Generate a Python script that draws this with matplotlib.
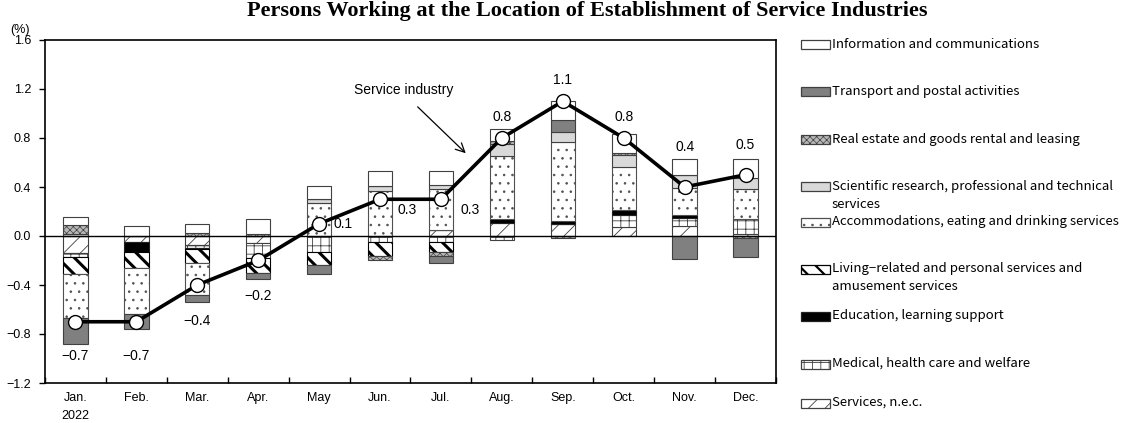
import numpy as np
import matplotlib
matplotlib.use("Agg")
import matplotlib.pyplot as plt
from matplotlib.patches import Rectangle

plt.rcParams['font.family'] = ['Noto Sans CJK JP', 'DejaVu Sans']

months = ["Jan.", "Feb.", "Mar.", "Apr.", "May", "Jun.", "Jul.", "Aug.", "Sep.", "Oct.", "Nov.", "Dec."]
year_label = "2022"

# stacked components (percentage points), stacking order from zero outward
services_nec   = [-0.14, -0.05, -0.07, -0.06, 0.00, 0.00, 0.05, 0.11, 0.10, 0.075, 0.085, 0.02]
medical        = [-0.03, 0.00, -0.03, -0.12, -0.13, -0.05, -0.05, -0.03, 0.00, 0.10, 0.065, 0.115]
education      = [0.00, -0.08, -0.01, 0.00, 0.00, 0.00, 0.00, 0.025, 0.025, 0.035, 0.025, 0.00]
living         = [-0.14, -0.13, -0.11, -0.12, -0.11, -0.11, -0.08, 0.00, 0.00, 0.00, 0.00, 0.00]
accommodations = [-0.36, -0.38, -0.26, 0.00, 0.27, 0.37, 0.33, 0.52, 0.645, 0.35, 0.22, 0.245]
scientific     = [0.02, 0.00, 0.00, 0.00, 0.03, 0.04, 0.04, 0.10, 0.075, 0.10, 0.10, 0.09]
real_estate    = [0.07, 0.00, 0.025, 0.02, 0.00, -0.04, -0.03, 0.02, -0.02, 0.02, 0.00, -0.02]
transport      = [-0.21, -0.12, -0.055, -0.055, -0.07, 0.00, -0.06, 0.00, 0.10, 0.00, -0.19, -0.155]
information    = [0.065, 0.08, 0.07, 0.12, 0.11, 0.12, 0.11, 0.10, 0.155, 0.155, 0.13, 0.16]

service_industry = [-0.7, -0.7, -0.4, -0.2, 0.1, 0.3, 0.3, 0.8, 1.1, 0.8, 0.4, 0.5]
value_labels = ["\u22120.7", "\u22120.7", "\u22120.4", "\u22120.2", "0.1", "0.3", "0.3", "0.8", "1.1", "0.8", "0.4", "0.5"]

legend_labels = [
    "Information and communications",
    "Transport and postal activities",
    "Real estate and goods rental and leasing",
    "Scientific research, professional and technical\nservices",
    "Accommodations, eating and drinking services",
    "Living\u2212related and personal services and\namusement services",
    "Education, learning support",
    "Medical, health care and welfare",
    "Services, n.e.c.",
]
y_ticks = [-1.2, -0.8, -0.4, 0.0, 0.4, 0.8, 1.2, 1.6]
y_ticklabels = ["\u22121.2", "\u22120.8", "\u22120.4", "0.0", "0.4", "0.8", "1.2", "1.6"]

# ---------------- styling ----------------
series = [services_nec, medical, education, living, accommodations,
          scientific, real_estate, transport, information]
styles = [
    dict(fc="white", ec="#404040", hatch="//", hlw=0.6),       # services nec
    dict(fc="white", ec="#404040", hatch="++", hlw=0.6),       # medical
    dict(fc="black", ec="#202020", hatch=None, hlw=0.6),       # education
    dict(fc="white", ec="#000000", hatch="\\\\", hlw=2.2),     # living
    dict(fc="white", ec="#505050", hatch="..", hlw=0.6),       # accommodations
    dict(fc="#d9d9d9", ec="#404040", hatch=None, hlw=0.6),     # scientific
    dict(fc="#b8b8b8", ec="#404040", hatch="xxxxx", hlw=0.5),  # real estate
    dict(fc="#808080", ec="#404040", hatch=None, hlw=0.6),     # transport
    dict(fc="white", ec="#404040", hatch=None, hlw=0.6),       # information
]
# legend order (top to bottom) index into series
legend_order = [8, 7, 6, 5, 4, 3, 2, 1, 0]

W, H = 1123, 423
fig = plt.figure(figsize=(W / 100, H / 100), dpi=100)
ax = fig.add_axes([45 / W, 1 - 383 / H, (776 - 45) / W, (383 - 40) / H])

x = np.arange(len(months))
pos_base = np.zeros(len(months))
neg_base = np.zeros(len(months))
bar_w = 0.4
for vals, st in zip(series, styles):
    v = np.array(vals, dtype=float)
    bottoms = np.where(v >= 0, pos_base, neg_base)
    bars = ax.bar(x, v, bottom=bottoms, width=bar_w, facecolor=st["fc"],
                  edgecolor=st["ec"], linewidth=0.8, hatch=st["hatch"], zorder=2)
    for p in bars:
        if hasattr(p, "set_hatch_linewidth"):
            p.set_hatch_linewidth(st["hlw"])
    pos_base = pos_base + np.where(v >= 0, v, 0)
    neg_base = neg_base + np.where(v < 0, v, 0)

ax.axhline(0, color="black", lw=1.0, zorder=3)
ax.plot(x, service_industry, color="black", lw=2.6, marker="o", markersize=10,
        markerfacecolor="white", markeredgecolor="black", markeredgewidth=1.0, zorder=5)

label_offsets = [(0, -34), (0, -34), (0, -36), (0, -35), (24, 0), (27, -11), (29, -11),
                 (0, 21), (0, 21), (0, 21), (0, 40), (0, 30)]
for xi, yi, lab, off in zip(x, service_industry, value_labels, label_offsets):
    ax.annotate(lab, (xi, yi), xytext=off, textcoords="offset pixels",
                ha="center", va="center", fontsize=10, zorder=6,
                family=["Liberation Sans", "DejaVu Sans"])

ax.text(5.39, 1.19, "Service industry", ha="center", va="center", fontsize=10,
        family=["Liberation Sans", "DejaVu Sans"])
ax.annotate("", xy=(6.44, 0.66), xytext=(5.585, 1.07),
            arrowprops=dict(arrowstyle="->", lw=0.9, color="black",
                            mutation_scale=16))

ax.set_xlim(-0.5, len(months) - 0.5)
ax.set_ylim(-1.2, 1.6)
ax.set_yticks(y_ticks)
ax.set_yticklabels(y_ticklabels, fontsize=9, family=["Liberation Sans", "DejaVu Sans"])
ax.tick_params(axis="y", direction="out", length=4, width=1, pad=6)
ax.set_xticks(np.arange(len(months) + 1) - 0.5)
ax.set_xticklabels([])
ax.tick_params(axis="x", direction="in", length=4, width=1)
for xi, m in zip(x, months):
    ax.text(xi, -0.027, m, transform=ax.get_xaxis_transform(), ha="center", va="top",
            fontsize=9, family=["Liberation Sans", "DejaVu Sans"])
ax.text(0, -0.079, year_label, transform=ax.get_xaxis_transform(), ha="center", va="top",
        fontsize=9, family=["Liberation Sans", "DejaVu Sans"])
for s in ax.spines.values():
    s.set_linewidth(1.2)
    s.set_color("black")

fig.text(20 / W, 1 - 30 / H, "(%)", ha="center", va="center", fontsize=9,
         family=["Liberation Sans", "DejaVu Sans"])

fig.text(587 / W, 1 - 1 / H, "Persons Working at the Location of Establishment of Service Industries",
         ha="center", va="top", fontsize=16, fontweight="bold",
         family=["Liberation Serif", "DejaVu Serif"])

# legend drawn in figure coordinates
leg_y = [45, 92, 140, 187, 222, 269, 316, 364, 403]
for yy, idx, lab in zip(leg_y, legend_order, legend_labels):
    st = styles[idx]
    r = Rectangle((801 / W, 1 - (yy + 4.5) / H), 29 / W, 9 / H, transform=fig.transFigure,
                  facecolor=st["fc"], edgecolor=st["ec"] if idx != 3 else "black",
                  linewidth=0.9, hatch=st["hatch"])
    if hasattr(r, "set_hatch_linewidth"):
        r.set_hatch_linewidth(min(st["hlw"], 1.6))
    fig.patches.append(r)
    fig.text(832 / W, 1 - (yy - 7) / H, lab, ha="left", va="top", fontsize=9.5,
             linespacing=1.45)

fig.savefig("out.png", dpi=100)
